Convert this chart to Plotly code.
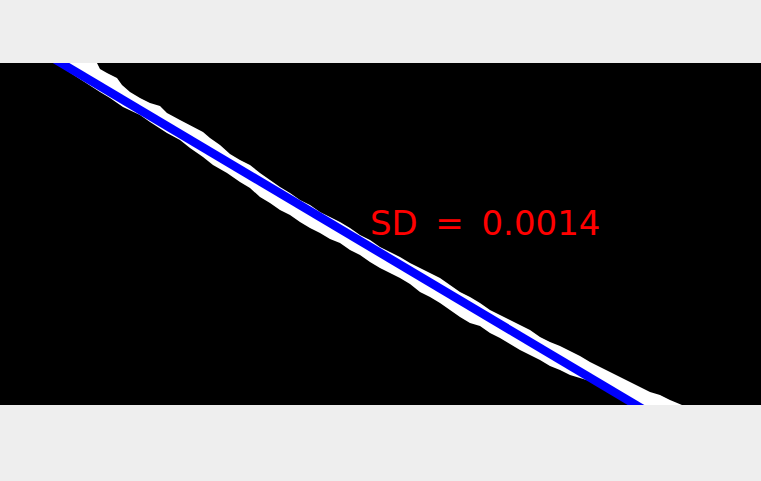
import plotly.graph_objects as go

# image size (pixels) of the thresholded frame
img_w = 761
img_h = 342

# white band (thresholded edge), upper and lower outline, image pixel coords
upper_x = [97, 100, 107, 117, 122, 130, 140, 150, 160, 167, 180, 193, 203, 210, 220,
           230, 240, 250, 260, 270, 280, 290, 300, 310, 320, 330, 340, 350, 360, 370,
           380, 390, 400, 410, 420, 430, 440, 450, 460, 470, 480, 490, 500, 510, 520,
           530, 540, 550, 560, 570, 580, 590, 600, 610, 620, 630, 640, 650, 660, 670, 682]
upper_y = [0, 6, 10, 15, 22, 29, 35, 40, 43, 50, 57, 64, 69, 75, 82,
           91, 97, 102, 110, 117, 124, 130, 137, 142, 149, 154, 159, 165, 172, 177,
           184, 189, 194, 200, 205, 210, 215, 222, 229, 234, 240, 247, 252, 257, 262,
           267, 274, 279, 283, 288, 293, 299, 304, 309, 314, 319, 324, 329, 332, 337, 342]

lower_x = [55, 73, 100, 110, 123, 140, 150, 167, 180, 190, 203, 213, 227, 240, 250,
           260, 270, 280, 290, 300, 310, 320, 330, 340, 350, 360, 370, 380, 390, 400,
           410, 420, 430, 440, 450, 460, 470, 480, 490, 500, 510, 520, 530, 540, 550,
           560, 570, 580, 593, 610, 630]
lower_y = [0, 12, 29, 35, 44, 52, 59, 70, 77, 85, 94, 102, 110, 119, 125,
           134, 140, 147, 152, 159, 165, 170, 176, 180, 187, 192, 199, 205, 210, 215,
           221, 229, 234, 240, 247, 254, 260, 263, 270, 275, 281, 287, 292, 297, 303,
           307, 312, 315, 319, 327, 342]

# least squares fit of the band: y = fit_intercept + fit_slope * x
fit_slope = 0.5948
fit_intercept = -36.3
sd_value = 0.0014

fig = go.Figure()

# white band
fig.add_trace(go.Scatter(
    x=upper_x + lower_x[::-1],
    y=upper_y + lower_y[::-1],
    mode="lines",
    fill="toself",
    fillcolor="white",
    line=dict(color="white", width=0),
    hoverinfo="skip",
))

# fitted line
line_x = [0, img_w]
line_y = [fit_intercept + fit_slope * x for x in line_x]
fig.add_trace(go.Scatter(
    x=line_x,
    y=line_y,
    mode="lines",
    line=dict(color="#0000ff", width=8.5),
))

# wider gaps around "=" like the original stroke font
fig.add_annotation(
    x=368, y=159.5,
    text=f"SD\u2009 = \u2009{sd_value}",
    showarrow=False,
    xanchor="left", yanchor="middle",
    font=dict(family="DejaVu Sans", size=34, color="#ff0000"),
)

fig.update_layout(
    width=761,
    height=481,
    margin=dict(l=0, r=0, t=63, b=76),
    paper_bgcolor="#eeeeee",
    plot_bgcolor="black",
    showlegend=False,
    xaxis=dict(range=[0, img_w], visible=False, fixedrange=True),
    yaxis=dict(range=[img_h, 0], visible=False, fixedrange=True),
)

fig.write_html(
    "out.html",
    config={"displayModeBar": False},
    post_script="document.body.style.margin='0';",
)
